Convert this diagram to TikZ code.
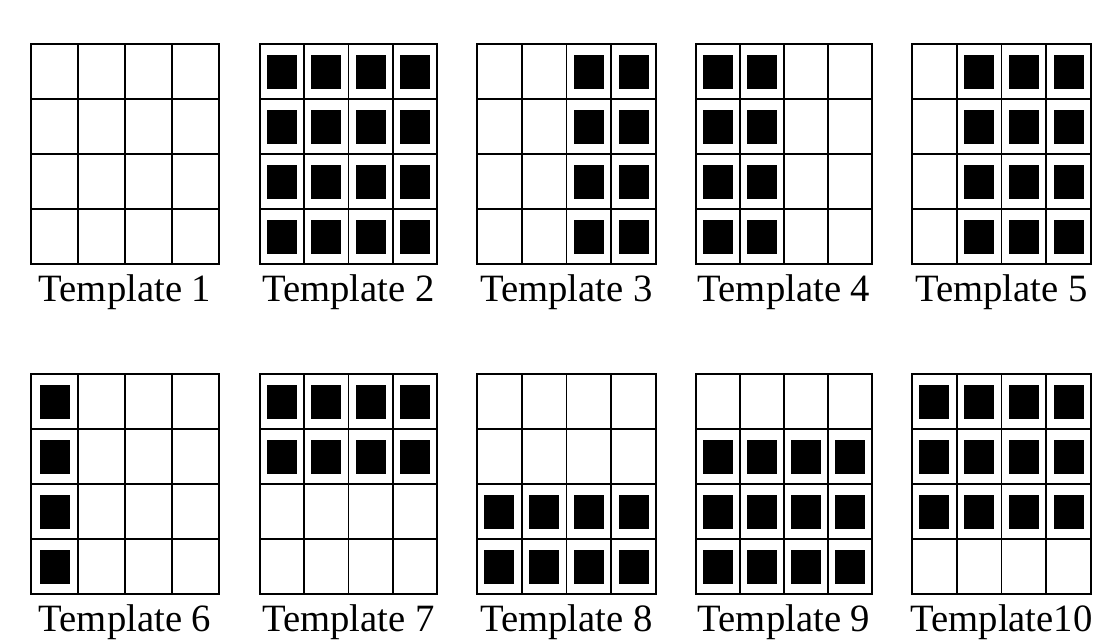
\documentclass[tikz,border=0pt]{standalone}
\usepackage{fontspec}
\setmainfont{Liberation Serif}
\usepackage{tikz}
\usetikzlibrary{calc}

\begin{document}
\begin{tikzpicture}[x=0.025cm, y=-0.025cm, line join=miter,
    gridline/.style={line width=1.1pt, draw=black},
    cellmark/.style={fill=black, draw=none},
    tmplabel/.style={anchor=base, inner sep=0pt, font=\fontsize{27.5}{31}\selectfont}]

        % =========================
        % KHUNG ẢNH
        % =========================
        \useasboundingbox (0,0) rectangle (1094,640);

        % =========================
        % LƯỚI 4x4 VÀ NHÃN
        % =========================
        \foreach \n/\xl/\w/\yt/\txt in {1/31/188/44/Template 1, 2/260/177/44/Template 2,
                3/477/179/44/Template 3, 4/696/176/44/Template 4, 5/912/179/44/Template 5,
                6/31/188/374/Template 6, 7/260/177/374/Template 7, 8/477/179/374/Template 8,
                9/696/176/374/Template 9, 10/912/179/374/Template10}
        {
            \draw[gridline] (\xl,\yt) rectangle (\xl+\w,\yt+220);
            \foreach \k in {1,2,3} {
                \draw[gridline] (\xl+\k*\w/4,\yt) -- (\xl+\k*\w/4,\yt+220);
                \draw[gridline] (\xl,\yt+\k*55) -- (\xl+\w,\yt+\k*55);
            }
            \node[tmplabel] (lab\n) at (\xl+\w/2,\yt+257) {\txt};
        }

        % =========================
        % CÁC Ô ĐEN
        % =========================
        \foreach \xl/\w/\yt/\cols/\rows in {260/177/44/{1,2,3,4}/{1,2,3,4},
                477/179/44/{3,4}/{1,2,3,4}, 696/176/44/{1,2}/{1,2,3,4},
                912/179/44/{2,3,4}/{1,2,3,4}, 31/188/374/{1}/{1,2,3,4},
                260/177/374/{1,2,3,4}/{1,2}, 477/179/374/{1,2,3,4}/{3,4},
                696/176/374/{1,2,3,4}/{2,3,4}, 912/179/374/{1,2,3,4}/{1,2,3}}
        {
            \foreach \c in \cols {
                \foreach \r in \rows {
                    \fill[cellmark] (\xl+\c*\w/4-\w/8-15,\yt+\r*55-27.5-17)
                        rectangle (\xl+\c*\w/4-\w/8+15,\yt+\r*55-27.5+17);
                }
            }
        }

    \end{tikzpicture}
\end{document}
